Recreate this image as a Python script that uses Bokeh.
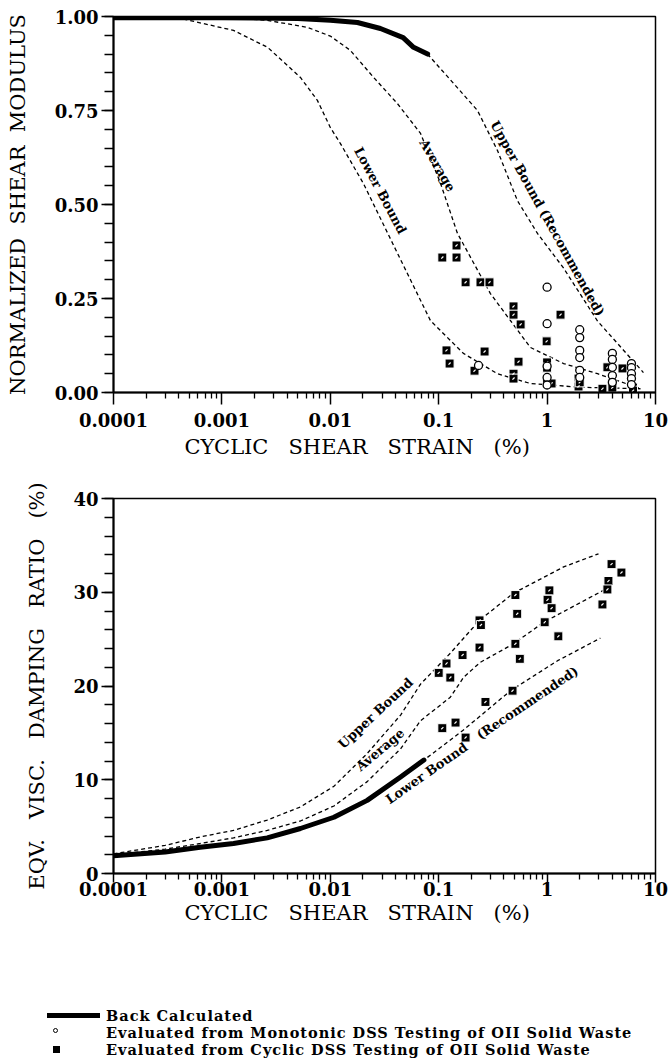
from bokeh.plotting import figure
from bokeh.models import Range1d, FixedTicker, Title, NumeralTickFormatter, PrintfTickFormatter, Div
from bokeh.layouts import column
from bokeh.embed import file_html
from bokeh.resources import INLINE
from bokeh.core.properties import value

FONT = "DejaVu Serif"
NB = "\u00a0"

# ---------------- data: modulus reduction (strain %, G/Gmax) ----------------
g_back_x = [0.0001, 0.001, 0.005, 0.01, 0.0178, 0.029, 0.047, 0.0586, 0.079]
g_back_y = [0.997, 0.997, 0.995, 0.99, 0.984, 0.968, 0.944, 0.918, 0.90]

g_upper_x = [0.0001, 0.001, 0.005, 0.01, 0.0178, 0.029, 0.047, 0.0586, 0.079, 0.137, 0.228, 0.348, 0.533, 0.815, 1.41, 2.92, 7.74]
g_upper_y = [1.0, 0.999, 0.995, 0.99, 0.984, 0.968, 0.944, 0.918, 0.90, 0.822, 0.75, 0.644, 0.51, 0.423, 0.332, 0.19, 0.053]

g_avg_x = [0.0001, 0.001, 0.0026, 0.00617, 0.01, 0.0153, 0.0251, 0.0417, 0.068, 0.104, 0.149, 0.30, 0.70, 1.42, 2.92, 7.3]
g_avg_y = [1.0, 0.998, 0.99, 0.971, 0.948, 0.91, 0.838, 0.768, 0.689, 0.556, 0.423, 0.263, 0.12, 0.077, 0.05, 0.01]

g_low_x = [0.0001, 0.0002, 0.000415, 0.00128, 0.00264, 0.0053, 0.0076, 0.01, 0.0124, 0.0202, 0.0417, 0.084, 0.169, 0.348, 0.70, 2.0, 7.3]
g_low_y = [1.0, 0.999, 0.995, 0.963, 0.918, 0.838, 0.777, 0.705, 0.662, 0.556, 0.37, 0.191, 0.104, 0.05, 0.024, 0.014, 0.01]

g_cyc_x = [0.108, 0.146, 0.146, 0.177, 0.243, 0.294, 0.49, 0.49, 0.57, 1.33, 0.99, 0.118, 0.126, 0.265, 0.214,
           0.545, 0.49, 0.49, 1.0, 1.0, 1.0, 1.1, 1.95, 1.95, 2.0, 3.24, 3.6, 4.0, 4.0, 4.96, 6.2, 6.2]
g_cyc_y = [0.359, 0.359, 0.391, 0.293, 0.293, 0.293, 0.229, 0.207, 0.181, 0.207, 0.136, 0.112, 0.077, 0.109, 0.058,
           0.082, 0.05, 0.037, 0.08, 0.066, 0.024, 0.024, 0.037, 0.016, 0.027, 0.01, 0.067, 0.024, 0.013, 0.064, 0.013, 0.005]

g_mono_x = [1.0, 1.0, 1.0, 1.0, 1.0, 2.0, 2.0, 2.0, 2.0, 2.0, 2.0, 4.0, 4.0, 4.0, 4.0, 4.0,
            6.0, 6.0, 6.0, 6.0, 6.0, 0.233]
g_mono_y = [0.28, 0.183, 0.07, 0.04, 0.02, 0.167, 0.146, 0.112, 0.093, 0.059, 0.04, 0.104, 0.088, 0.067, 0.045, 0.027,
            0.077, 0.066, 0.05, 0.037, 0.021, 0.072]

# ---------------- data: damping (strain %, damping %) ----------------
d_back_x = [0.0001, 0.0003, 0.00063, 0.00128, 0.00262, 0.0053, 0.0108, 0.0219, 0.0445, 0.073]
d_back_y = [1.9, 2.3, 2.8, 3.2, 3.8, 4.8, 6.0, 7.8, 10.3, 12.1]

d_low_x = d_back_x + [0.169, 0.46, 1.25, 3.1]
d_low_y = d_back_y + [15.3, 19.5, 22.7, 25.1]

d_avg_x = [0.0001, 0.0003, 0.00063, 0.00128, 0.00262, 0.0053, 0.0108, 0.0219, 0.0445, 0.068, 0.128, 0.169, 0.24, 0.49, 0.93, 3.3]
d_avg_y = [2.0, 2.6, 3.2, 3.8, 4.6, 5.6, 7.2, 9.8, 13.3, 16.3, 18.8, 20.9, 22.5, 24.5, 26.8, 30.2]

d_up_x = [0.0001, 0.0003, 0.00063, 0.00128, 0.00262, 0.0053, 0.0108, 0.0219, 0.0445, 0.068, 0.128, 0.238, 0.49, 1.42, 2.98]
d_up_y = [2.1, 3.0, 3.9, 4.6, 5.7, 7.1, 9.3, 12.8, 16.9, 20.2, 23.5, 27.0, 29.9, 32.7, 34.1]

d_cyc_x = [3.93, 4.85, 3.68, 3.6, 3.24, 1.05, 1.01, 1.10, 0.95, 1.27, 0.51, 0.53, 0.51, 0.56, 0.238, 0.245, 0.238,
           0.166, 0.118, 0.10, 0.128, 0.27, 0.48, 0.108, 0.143, 0.177]
d_cyc_y = [33.0, 32.1, 31.2, 30.3, 28.7, 30.2, 29.2, 28.3, 26.8, 25.3, 29.7, 27.7, 24.5, 22.9, 27.0, 26.5, 24.1,
           23.3, 22.4, 21.4, 20.9, 18.3, 19.5, 15.5, 16.1, 14.5]

# curve labels
g_lab_text = ["Lower Bound", "Average", "Upper Bound (Recommended)"]
g_lab_x = [0.029, 0.0975, 1.01]
g_lab_y = [0.537, 0.604, 0.463]
g_lab_ang = [-62, -60, -61]

d_lab_text = ["Upper Bound", "Average", "Lower Bound", "(Recommended)"]
d_lab_x = [0.0261, 0.0288, 0.0773, 0.659]
d_lab_y = [17.1, 13.2, 10.7, 18.2]
d_lab_ang = [43, 40, 35, 34]

x_ticks = [0.0001, 0.001, 0.01, 0.1, 1, 10]
x_minor = [m * 10.0 ** e for e in range(-4, 1) for m in range(2, 10)]
g_ticks = [0, 0.25, 0.5, 0.75, 1.0]
g_minor = [i * 0.05 for i in range(21)]
d_ticks = [0, 10, 20, 30, 40]
d_minor = [i * 2 for i in range(21)]

legend_labels = ["Back Calculated",
                 "Evaluated from Monotonic DSS Testing of OII Solid Waste",
                 "Evaluated from Cyclic DSS Testing of OII Solid Waste"]


def style(p, yticks, yminor, yfmt, ylabel, ylab_standoff, xlab_standoff, tick_out, xlab_title_standoff):
    p.xaxis.ticker = FixedTicker(ticks=x_ticks, minor_ticks=x_minor)
    p.xaxis.formatter = NumeralTickFormatter(format="0.[0000]")
    p.yaxis.ticker = FixedTicker(ticks=yticks, minor_ticks=yminor)
    if yfmt is not None:
        p.yaxis.formatter = yfmt
    p.yaxis.axis_label = ylabel
    p.yaxis.axis_label_text_font = FONT
    p.yaxis.axis_label_text_font_size = "21px"
    p.yaxis.axis_label_text_font_style = "normal"
    p.yaxis.axis_label_text_color = "black"
    p.yaxis.axis_label_standoff = ylab_standoff
    for ax in (p.xaxis[0], p.yaxis[0]):
        ax.axis_line_width = 2
        ax.axis_line_color = "black"
        ax.major_tick_line_color = "black"
        ax.minor_tick_line_color = "black"
        ax.major_tick_line_width = 1.5
        ax.minor_tick_line_width = 1.3
        ax.major_tick_in = 0
        ax.minor_tick_in = 0
        ax.major_label_text_font = FONT
        ax.major_label_text_font_style = "bold"
        ax.major_label_text_font_size = "18px"
        ax.major_label_text_color = "black"
    p.yaxis.major_tick_out = 12
    p.yaxis.minor_tick_out = 9
    p.yaxis.major_label_standoff = 3
    p.xaxis.major_tick_out = tick_out
    p.xaxis.minor_tick_out = 6
    p.xaxis.major_label_standoff = xlab_standoff
    p.xgrid.visible = False
    p.ygrid.visible = False
    p.outline_line_color = "black"
    p.outline_line_width = 1.5
    p.background_fill_color = "white"
    p.border_fill_color = "white"
    p.add_layout(Title(text="CYCLIC" + NB * 3 + "SHEAR" + NB * 3 + "STRAIN" + NB * 3 + "(%)",
                       align="left", offset=71, text_font=FONT, text_font_size="21px",
                       text_color="black", text_font_style="normal", standoff=xlab_title_standoff), "below")


def squares(p, xs, ys):
    r = p.scatter(xs, ys, marker="square", size=9, fill_color="black", line_color="white", line_width=1)
    p.scatter(xs, ys, marker="dash", size=3, angle=45, angle_units="deg", line_color="white", line_width=1.2)
    return r


dash = "4 3"

# ---------------- top figure ----------------
p1 = figure(frame_width=542, frame_height=376, x_axis_type="log",
            x_range=Range1d(0.0001, 10), y_range=Range1d(0, 1),
            output_backend="svg", toolbar_location=None,
            min_border_left=113, min_border_right=13, min_border_top=16, min_border_bottom=75)
style(p1, g_ticks, g_minor, PrintfTickFormatter(format="%.2f"),
      "NORMALIZED" + NB * 2 + "SHEAR" + NB * 2 + "MODULUS", 22, 8, 12, 7)

p1.line(g_low_x, g_low_y, line_dash=dash, line_width=1.3, color="black")
p1.line(g_avg_x, g_avg_y, line_dash=dash, line_width=1.3, color="black")
p1.line(g_upper_x, g_upper_y, line_dash=dash, line_width=1.3, color="black")
p1.line(g_back_x, g_back_y, line_width=5, color="black", line_join="round", line_cap="round")
squares(p1, g_cyc_x, g_cyc_y)
p1.scatter(g_mono_x, g_mono_y, marker="circle", size=8, fill_color="white", line_color="black", line_width=1.3)
p1.text(g_lab_x, g_lab_y, text=g_lab_text, angle=g_lab_ang, angle_units="deg",
        text_font=value(FONT), text_font_style="bold", text_font_size="13px",
        text_align="center", text_baseline="middle", text_color="black")

# ---------------- bottom figure ----------------
p2 = figure(frame_width=542, frame_height=375, x_axis_type="log",
            x_range=Range1d(0.0001, 10), y_range=Range1d(0, 40),
            output_backend="svg", toolbar_location=None,
            min_border_left=113, min_border_right=13, min_border_top=31, min_border_bottom=60)
style(p2, d_ticks, d_minor, None,
      "EQV." + NB * 3 + "VISC." + NB * 3 + "DAMPING" + NB * 3 + "RATIO" + NB * 3 + "(%)", 21, -1, 9, 0)

p2.line(d_up_x, d_up_y, line_dash=dash, line_width=1.3, color="black")
p2.line(d_avg_x, d_avg_y, line_dash=dash, line_width=1.3, color="black")
p2.line(d_low_x, d_low_y, line_dash=dash, line_width=1.3, color="black")
p2.line(d_back_x, d_back_y, line_width=5, color="black", line_join="round", line_cap="round")
squares(p2, d_cyc_x, d_cyc_y)
p2.text(d_lab_x, d_lab_y, text=d_lab_text, angle=d_lab_ang, angle_units="deg",
        text_font=value(FONT), text_font_style="bold", text_font_size="13px",
        text_align="center", text_baseline="middle", text_color="black")

# ---------------- legend (HTML block under the charts) ----------------
row_top = [74, 91, 108]
glyphs = [
    '<div style="position:absolute;left:47px;top:%dpx;width:53px;height:5px;background:#000;"></div>' % (row_top[0] + 6),
    '<div style="position:absolute;left:53px;top:%dpx;width:5px;height:5px;border:1.4px solid #000;border-radius:50%%;background:#fff;"></div>' % (row_top[1] + 4),
    '<div style="position:absolute;left:53px;top:%dpx;width:7px;height:7px;background:#000;"></div>' % (row_top[2] + 5),
]
texts = ['<div style="position:absolute;left:106px;top:%dpx;height:17px;line-height:17px;white-space:nowrap;">%s</div>'
         % (t, lab) for t, lab in zip(row_top, legend_labels)]
legend_html = ('<div style="position:relative;width:668px;height:128px;font-family:\'DejaVu Serif\';'
               'font-weight:bold;font-size:14.5px;letter-spacing:1px;line-height:17px;color:#000;">'
               + "".join(glyphs) + "".join(texts) + '</div>')
legend = Div(text=legend_html, width=668, height=128, margin=(0, 0, 0, 0))

layout = column(p1, p2, legend, spacing=0)
open("out.html", "w").write(file_html(layout, INLINE))
